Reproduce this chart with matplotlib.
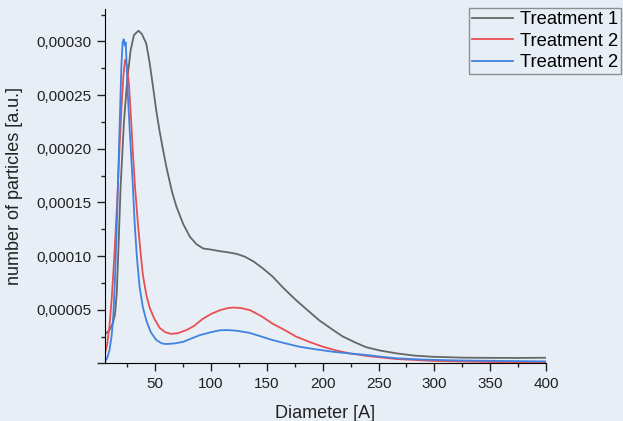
import numpy as np
import matplotlib.pyplot as plt
from matplotlib.ticker import MultipleLocator, FuncFormatter

# size distribution (y in 1e-5 a.u.)
t1_d = [5, 9, 12, 14, 15.5, 17, 19, 22, 25, 28, 31, 35, 38, 42, 45, 48, 51, 54, 57, 60,
        65, 69, 75, 81, 87, 93, 100, 108, 115, 123, 130, 138, 147, 155, 165, 176, 187, 197,
        208, 218, 229, 239, 251, 266, 282, 299, 325, 350, 375, 400]
t1_n = [2.7, 3.1, 3.7, 4.6, 6.5, 10.5, 16.5, 22.5, 26.5, 29.2, 30.6, 31.0, 30.7, 29.8, 28.0,
        25.8, 23.5, 21.6, 19.9, 18.3, 16.0, 14.6, 13.0, 11.8, 11.1, 10.7, 10.6, 10.45, 10.35,
        10.2, 9.95, 9.5, 8.8, 8.1, 7.0, 5.9, 4.9, 4.0, 3.2, 2.5, 1.95, 1.5, 1.2, 0.93, 0.72,
        0.61, 0.53, 0.51, 0.5, 0.52]

t2_d = [5, 7, 9, 11, 13.5, 16, 18, 20, 21.5, 23, 24.5, 26.5, 28.5, 30, 32, 34.5, 37, 39, 42,
        45, 49, 54, 59, 64, 70, 78, 85, 92, 100, 108, 115, 120, 127, 135, 145, 155, 166, 176,
        188, 200, 212, 224, 240, 266, 300, 350, 400]
t2_n = [0.9, 1.8, 3.4, 6.0, 10.2, 15.2, 20.0, 24.2, 26.8, 28.3, 27.8, 26.0, 22.5, 19.6, 16.3,
        13.0, 10.2, 8.2, 6.4, 5.2, 4.2, 3.3, 2.9, 2.75, 2.8, 3.1, 3.5, 4.1, 4.6, 4.95, 5.15,
        5.2, 5.15, 4.95, 4.4, 3.7, 3.1, 2.5, 2.0, 1.55, 1.2, 0.93, 0.68, 0.4, 0.22, 0.12, 0.08]

t3_d = [5, 7, 9, 11, 12.5, 14, 15.5, 17, 18.5, 19.8, 20.8, 21.8, 22.8, 23.6, 24.5, 25.5, 27,
        28.5, 30, 31.5, 33.5, 36, 39, 42, 46, 51, 56, 60, 67, 75, 82, 90, 100, 108, 114, 122,
        134, 145, 155, 167, 179, 194, 209, 224, 239, 252, 266, 290, 320, 360, 400]
t3_n = [0.15, 0.5, 1.2, 2.6, 4.5, 8.0, 12.5, 18.0, 23.5, 28.0, 29.9, 30.2, 29.6, 29.9, 27.5,
        25.0, 22.0, 19.3, 16.5, 13.2, 10.0, 7.1, 5.2, 4.0, 2.9, 2.17, 1.85, 1.8, 1.85, 2.0,
        2.3, 2.63, 2.9, 3.08, 3.1, 3.05, 2.85, 2.5, 2.17, 1.85, 1.55, 1.3, 1.08, 0.92, 0.78,
        0.62, 0.47, 0.35, 0.27, 0.22, 0.18]

labels = ['Treatment 1', 'Treatment 2', 'Treatment 2']
colors = ['#666666', '#e84f53', '#3f82e2']

bg = '#e8eef5'
plt.rcParams['font.family'] = ['Liberation Sans', 'DejaVu Sans']
fig = plt.figure(figsize=(6.23, 4.21), dpi=100, facecolor=bg)
ax = fig.add_axes([0.1685, 0.137, 0.7079, 0.841])
ax.set_facecolor(bg)

for d, n, c, lab in zip([t1_d, t2_d, t3_d], [t1_n, t2_n, t3_n], colors, labels):
    ax.plot(d, np.array(n) * 1e-5, color=c, lw=1.3, label=lab)

ax.set_xlim(5, 400)
ax.set_ylim(0, 0.00033)
ax.spines['top'].set_visible(False)
ax.spines['right'].set_visible(False)
ax.xaxis.set_major_locator(MultipleLocator(50))
ax.xaxis.set_minor_locator(MultipleLocator(25))
ax.yaxis.set_major_locator(MultipleLocator(0.00005))
ax.yaxis.set_minor_locator(MultipleLocator(0.000025))
ax.yaxis.set_major_formatter(FuncFormatter(
    lambda v, p: '' if abs(v) < 1e-9 else f'{v:.5f}'.replace('.', ',')))
ax.xaxis.set_major_formatter(FuncFormatter(
    lambda v, p: '' if abs(v) < 1e-9 else f'{v:.0f}'))
ax.tick_params(which='major', direction='out', length=6, width=1, labelsize=11,
               colors='#222222', pad=4)
ax.tick_params(which='minor', direction='out', length=3, width=1, colors='#222222')
ax.set_xlabel('Diameter [A]', fontsize=13, color='#222222', labelpad=10)
ax.set_ylabel('number of particles [a.u.]', fontsize=13, color='#222222', labelpad=9)

leg = fig.legend(loc='upper right', bbox_to_anchor=(0.997, 0.98), borderaxespad=0,
                 fontsize=13.2, frameon=True, fancybox=False, handlelength=2.25,
                 labelspacing=0.25, borderpad=0.15, handletextpad=0.4)
leg.get_frame().set_facecolor(bg)
leg.get_frame().set_edgecolor('#777777')
leg.get_frame().set_linewidth(1)

fig.savefig('out.png', dpi=100, facecolor=bg)
